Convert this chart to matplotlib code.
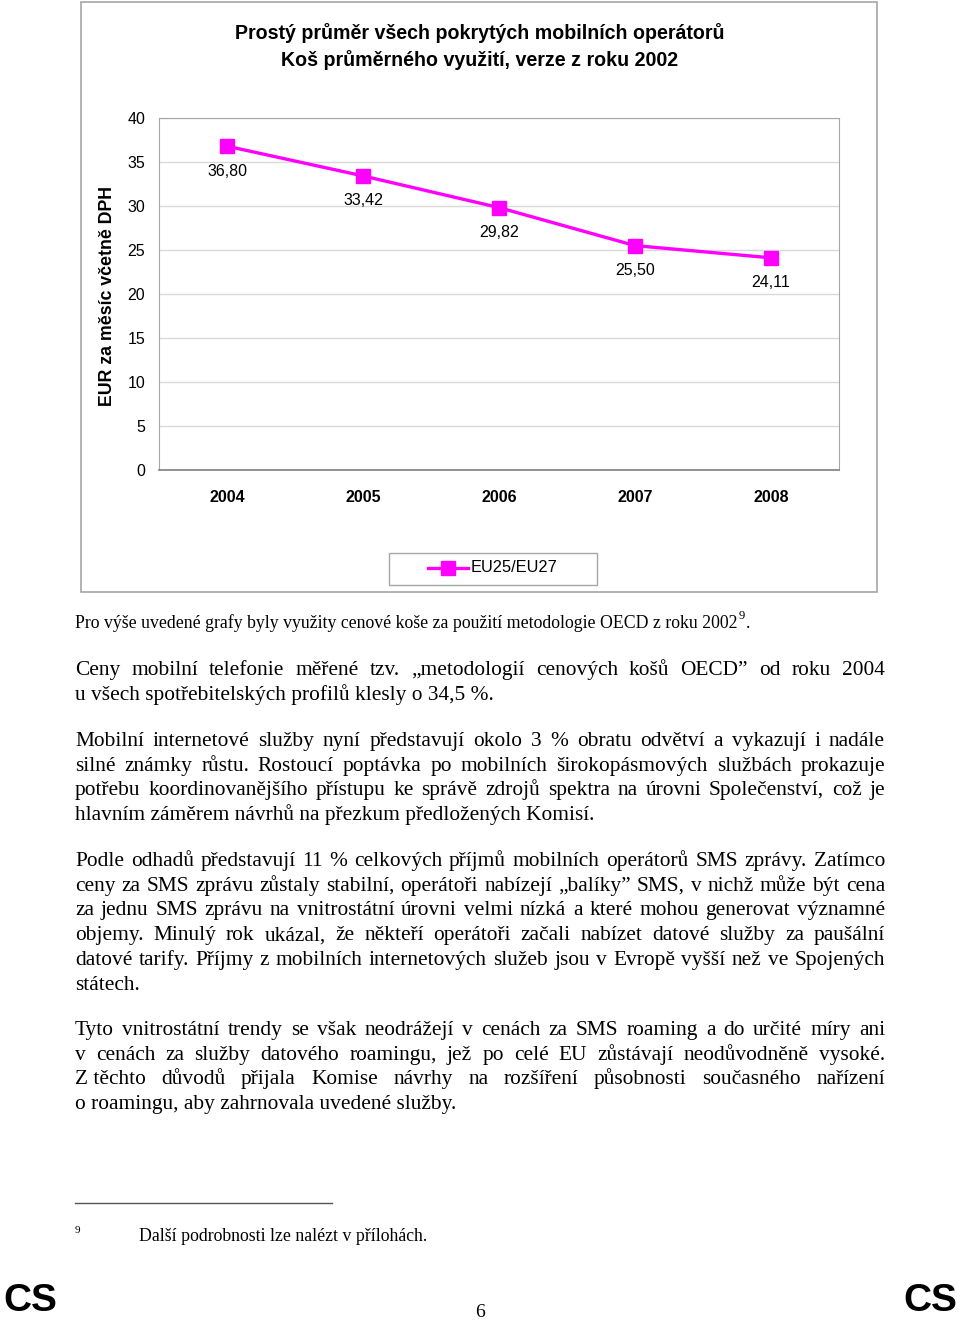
import matplotlib.pyplot as plt
from matplotlib.patches import Rectangle
from matplotlib.lines import Line2D

# ---- data ----
years = ['2004', '2005', '2006', '2007', '2008']
prices = [36.80, 33.42, 29.82, 25.50, 24.11]
price_labels = ['36,80', '33,42', '29,82', '25,50', '24,11']
yticks = [0, 5, 10, 15, 20, 25, 30, 35, 40]
series_name = 'EU25/EU27'

title_lines = ['Prostý průměr všech pokrytých mobilních operátorů',
               'Koš průměrného využití, verze z roku 2002']
ylabel = 'EUR za měsíc včetně DPH'

caption = 'Pro výše uvedené grafy byly využity cenové koše za použití metodologie OECD z roku 2002'

paragraphs = [
    ['Ceny mobilní telefonie měřené tzv. „metodologií cenových košů OECD” od roku 2004',
     'u všech spotřebitelských profilů klesly o 34,5 %.'],
    ['Mobilní internetové služby nyní představují okolo 3 % obratu odvětví a vykazují i nadále',
     'silné známky růstu. Rostoucí poptávka po mobilních širokopásmových službách prokazuje',
     'potřebu koordinovanějšího přístupu ke správě zdrojů spektra na úrovni Společenství, což je',
     'hlavním záměrem návrhů na přezkum předložených Komisí.'],
    ['Podle odhadů představují 11 % celkových příjmů mobilních operátorů SMS zprávy. Zatímco',
     'ceny za SMS zprávu zůstaly stabilní, operátoři nabízejí „balíky” SMS, v nichž může být cena',
     'za jednu SMS zprávu na vnitrostátní úrovni velmi nízká a které mohou generovat významné',
     'objemy. Minulý rok ukázal, že někteří operátoři začali nabízet datové služby za paušální',
     'datové tarify. Příjmy z mobilních internetových služeb jsou v Evropě vyšší než ve Spojených',
     'státech.'],
    ['Tyto vnitrostátní trendy se však neodrážejí v cenách za SMS roaming a do určité míry ani',
     'v cenách za služby datového roamingu, jež po celé EU zůstávají neodůvodněně vysoké.',
     'Z\u00a0těchto důvodů přijala Komise návrhy na rozšíření působnosti současného nařízení',
     'o roamingu, aby zahrnovala uvedené služby.'],
]
para_tops = [675, 746, 866, 1035]
footnote = 'Další podrobnosti lze nalézt v přílohách.'

# ---- page ----
W, H = 960, 1320
fig = plt.figure(figsize=(W / 100, H / 100), dpi=100)
renderer = fig.canvas.get_renderer()
SANS = 'Liberation Sans'
SERIF = 'Liberation Serif'


def fx(x):
    return x / W


def fy(y):
    return 1 - y / H


# chart frame
fig.patches.append(Rectangle((fx(81), fy(592)), fx(877) - fx(81), fy(2) - fy(592),
                             transform=fig.transFigure, fill=False,
                             edgecolor='#a6a6a6', linewidth=1.2))

fig.text(fx(480), fy(33), title_lines[0], ha='center', va='center',
         family=SANS, weight='bold', fontsize=14.1)
fig.text(fx(480), fy(60), title_lines[1], ha='center', va='center',
         family=SANS, weight='bold', fontsize=14.1)

ax = fig.add_axes([fx(159), fy(470), fx(839) - fx(159), fy(118) - fy(470)])
xs = [i + 0.5 for i in range(len(years))]
ax.plot(xs, prices, color='#ff00ff', linewidth=2.4, marker='s', markersize=9.5,
        label=series_name)
for x, v, lab in zip(xs, prices, price_labels):
    ax.annotate(lab, (x, v), xytext=(0, -18), textcoords='offset points',
                ha='center', va='center', family=SANS, fontsize=11.5)
ax.set_xlim(0, len(years))
ax.set_ylim(0, 40)
ax.set_yticks(yticks)
ax.set_xticks(xs)
ax.set_xticklabels(years, family=SANS, weight='bold', fontsize=11.5)
ax.set_yticklabels([str(t) for t in yticks], family=SANS, fontsize=11.5)
ax.tick_params(length=0)
ax.tick_params(axis='y', pad=10)
ax.tick_params(axis='x', pad=14.5)
ax.grid(axis='y', color='#d9d9d9', linewidth=1)
ax.set_axisbelow(True)
for s in ['top', 'right', 'left']:
    ax.spines[s].set_color('#a6a6a6')
ax.spines['bottom'].set_color('#808080')
ax.spines['bottom'].set_linewidth(1.2)

fig.text(fx(107), fy(296), ylabel, rotation=90, ha='center', va='center',
         family=SANS, weight='bold', fontsize=12.8)

# legend
fig.patches.append(Rectangle((fx(389), fy(585)), fx(597) - fx(389), fy(553) - fy(585),
                             transform=fig.transFigure, fill=False,
                             edgecolor='#a6a6a6', linewidth=1))
fig.lines.append(Line2D([fx(428), fx(448), fx(468)], [fy(568)] * 3, transform=fig.transFigure,
                        color='#ff00ff', linewidth=2.4, marker='s', markersize=9.5,
                        markevery=[1]))
fig.text(fx(471), fy(568), series_name, ha='left', va='center', family=SANS, fontsize=11.8)

# ---- body text ----
BODY = 15.4
X0, X1 = 75, 885
LINE = 24.7


def width_of(t):
    return t.get_window_extent(renderer).width


def put_line(line, y, last):
    if last:
        fig.text(fx(X0), fy(y), line, ha='left', va='baseline', family=SERIF, fontsize=BODY)
        return
    words = line.split(' ')
    texts = [fig.text(0, 0, w, ha='left', va='baseline', family=SERIF, fontsize=BODY)
             for w in words]
    widths = [width_of(t) for t in texts]
    gap = (X1 - X0 - sum(widths)) / (len(words) - 1)
    x = X0
    for t, w in zip(texts, widths):
        t.set_position((fx(x), fy(y)))
        x += w + gap


cap = fig.text(fx(75), fy(628), caption, ha='left', va='baseline', family=SERIF, fontsize=12.8)
cw = width_of(cap)
fig.text(fx(75 + cw + 1), fy(619), '9', ha='left', va='baseline', family=SERIF, fontsize=9)
fig.text(fx(75 + cw + 8), fy(628), '.', ha='left', va='baseline', family=SERIF, fontsize=12.8)

for top, para in zip(para_tops, paragraphs):
    for i, line in enumerate(para):
        put_line(line, top + i * LINE, i == len(para) - 1)

# footnote
fig.lines.append(Line2D([fx(75), fx(332)], [fy(1203), fy(1203)], transform=fig.transFigure,
                        color='#555555', linewidth=1))
fig.text(fx(75), fy(1233), '9', ha='left', va='baseline', family=SERIF, fontsize=8)
fig.text(fx(139), fy(1241), footnote, ha='left', va='baseline', family=SERIF, fontsize=12.8)

# page footer
fig.text(fx(3), fy(1319), 'CS', ha='left', va='bottom', family=SANS, weight='bold', fontsize=28)
fig.text(fx(957), fy(1319), 'CS', ha='right', va='bottom', family=SANS, weight='bold', fontsize=28)
fig.text(fx(480), fy(1317), '6', ha='center', va='baseline', family=SERIF, fontsize=14)

fig.savefig('out.png', dpi=100, facecolor='white')
